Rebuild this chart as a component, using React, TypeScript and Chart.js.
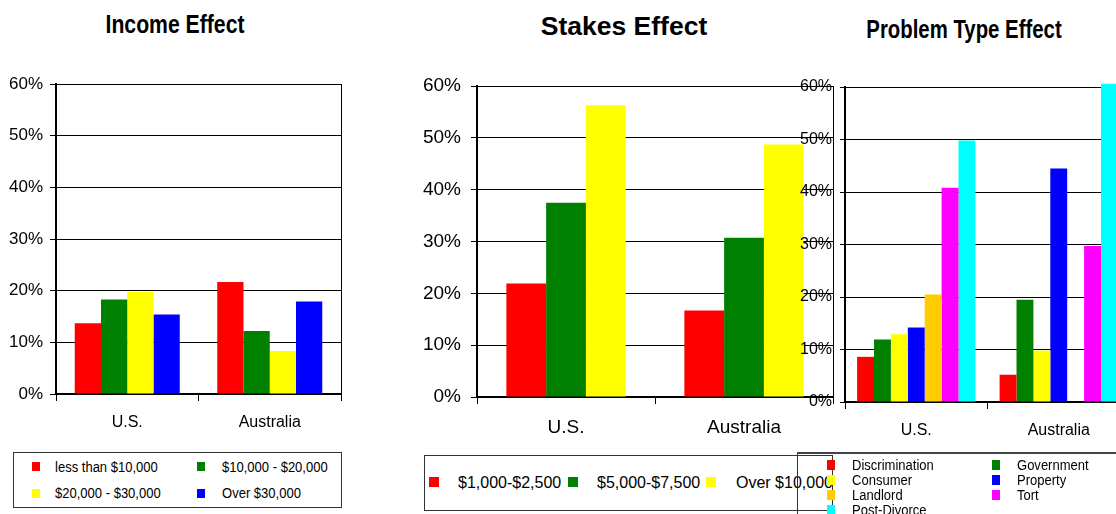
import React, { useEffect, useRef } from 'react';
import { Chart, registerables } from 'chart.js';

Chart.register(...registerables);

// ---------- data ----------
const categories = ['U.S.', 'Australia'];

const incomeSeriesNames = ['less than $10,000', '$10,000 - $20,000', '$20,000 - $30,000', 'Over $30,000'];
const incomeUnder10k = [13.7, 21.7];
const income10to20k = [18.3, 12.2];
const income20to30k = [19.8, 8.3];
const incomeOver30k = [15.4, 17.9];

const stakesSeriesNames = ['$1,000-$2,500', '$5,000-$7,500', 'Over $10,000'];
const stakes1000to2500 = [21.9, 16.7];
const stakes5000to7500 = [37.5, 30.7];
const stakesOver10000 = [56.3, 48.7];

const problemSeriesNames = ['Discrimination', 'Government', 'Consumer', 'Property', 'Landlord', 'Tort', 'Post-Divorce'];
const problemDiscrimination = [8.6, 5.2];
const problemGovernment = [11.9, 19.5];
const problemConsumer = [12.9, 9.8];
const problemProperty = [14.2, 44.5];
const problemLandlord = [20.5, 0];
const problemTort = [40.8, 29.7];
const problemPostDivorce = [49.8, 60.6];

const yMin = 0;
const yMax = 60;
const yStep = 10;

// ---------- styles ----------
const FONT = '"Liberation Sans", Arial, Helvetica, sans-serif';
const incomeColors = ['#FF0000', '#008000', '#FFFF00', '#0000FF'];
const stakesColors = ['#FF0000', '#008000', '#FFFF00'];
const problemColors = ['#FF0000', '#008000', '#FFFF00', '#0000FF', '#FFCC00', '#FF00FF', '#00FFFF'];

Chart.defaults.font.family = FONT;

const frameRight = {
  id: 'frameRight',
  beforeDatasetsDraw(chart: any) {
    const { ctx, chartArea } = chart;
    ctx.save();
    ctx.strokeStyle = '#000';
    ctx.lineWidth = 1;
    const x = Math.round(chartArea.right) + 0.5;
    ctx.beginPath();
    ctx.moveTo(x, chartArea.top);
    ctx.lineTo(x, chartArea.bottom);
    ctx.stroke();
    ctx.restore();
  },
};

type Geo = {
  yWidth: number; padTop: number; padRight: number; xHeight: number;
  yFont: number; yPad: number; yTickLen: number;
  xFont: number; xPad: number; xTickLen: number; catPct: number;
};

function makeConfig(series: number[][], names: string[], colors: string[], g: Geo): any {
  return {
    type: 'bar',
    data: {
      labels: categories,
      datasets: series.map((d, i) => ({
        label: names[i],
        data: d,
        backgroundColor: colors[i],
        borderWidth: 0,
        clip: false,
      })),
    },
    options: {
      animation: false,
      responsive: false,
      events: [],
      layout: { padding: { left: 0, top: g.padTop, right: g.padRight, bottom: 0 } },
      plugins: { legend: { display: false }, title: { display: false }, tooltip: { enabled: false } },
      datasets: { bar: { categoryPercentage: g.catPct, barPercentage: 1 } },
      scales: {
        x: {
          offset: true,
          grid: { display: true, drawOnChartArea: false, drawTicks: true, tickLength: g.xTickLen, color: '#000', lineWidth: 1, offset: true },
          border: { display: true, color: '#000', width: 2 },
          ticks: { color: '#000', font: { family: FONT, size: g.xFont }, padding: g.xPad, maxRotation: 0, autoSkip: false },
          afterFit: (s: any) => { s.height = g.xHeight; },
        },
        y: {
          min: yMin,
          max: yMax,
          ticks: {
            stepSize: yStep,
            callback: (v: any) => v + '%',
            color: '#000',
            font: { family: FONT, size: g.yFont },
            padding: g.yPad,
          },
          grid: { color: '#000', lineWidth: 1, tickLength: g.yTickLen, drawTicks: true },
          border: { display: true, color: '#000', width: 2 },
          afterFit: (s: any) => { s.width = g.yWidth; },
        },
      },
    },
    plugins: [frameRight],
  };
}

function ChartCanvas({ left, top, width, height, build }: { left: number; top: number; width: number; height: number; build: () => any }) {
  const ref = useRef<HTMLCanvasElement>(null);
  useEffect(() => {
    const chart = new Chart(ref.current as HTMLCanvasElement, build());
    return () => chart.destroy();
  }, []);
  return (
    <canvas
      ref={ref}
      width={width}
      height={height}
      style={{ position: 'absolute', left, top, width, height }}
    />
  );
}

function Label({ x, cy, size, text, sx = 1, bold = false, center = false }: { x: number; cy: number; size: number; text: string; sx?: number; bold?: boolean; center?: boolean }) {
  const lh = Math.round(size * 1.2);
  const style: React.CSSProperties = {
    position: 'absolute',
    top: cy - lh / 2,
    fontSize: size,
    lineHeight: lh + 'px',
    fontFamily: FONT,
    fontWeight: bold ? 700 : 400,
    whiteSpace: 'nowrap',
    color: '#000',
    transform: `scaleX(${sx})`,
  };
  if (center) {
    style.left = x - 300;
    style.width = 600;
    style.textAlign = 'center';
    style.transformOrigin = 'center center';
  } else {
    style.left = x;
    style.transformOrigin = 'left center';
  }
  return <div style={style}>{text}</div>;
}

function Swatch({ x, y, w, h, color }: { x: number; y: number; w: number; h: number; color: string }) {
  return <div style={{ position: 'absolute', left: x, top: y, width: w, height: h, background: color }} />;
}

export default function App() {
  const incomeSeries = [incomeUnder10k, income10to20k, income20to30k, incomeOver30k];
  const stakesSeries = [stakes1000to2500, stakes5000to7500, stakesOver10000];
  const problemSeries = [problemDiscrimination, problemGovernment, problemConsumer, problemProperty, problemLandlord, problemTort, problemPostDivorce];

  const g1: Geo = { yWidth: 56, padTop: 84, padRight: 19, xHeight: 56, yFont: 17, yPad: 7, yTickLen: 6, xFont: 16, xPad: 12, xTickLen: 7, catPct: 0.737 };
  const g2: Geo = { yWidth: 97, padTop: 86, padRight: 7, xHeight: 53, yFont: 19, yPad: 10, yTickLen: 6, xFont: 19, xPad: 12, xTickLen: 7, catPct: 0.67 };
  const g3: Geo = { yWidth: 65, padTop: 87, padRight: 10, xHeight: 48, yFont: 16, yPad: 8, yTickLen: 5, xFont: 16, xPad: 12, xTickLen: 7, catPct: 0.83 };

  const incomeLegendPos = [
    { sx: 32, sy: 462, tx: 55, ty: 467.5 },
    { sx: 197, sy: 462, tx: 222, ty: 467.5 },
    { sx: 32, sy: 489, tx: 55, ty: 493 },
    { sx: 197, sy: 489, tx: 222, ty: 493 },
  ];
  const stakesLegendX = [{ sx: 429, tx: 458 }, { sx: 568, tx: 597 }, { sx: 706, tx: 736 }];

  return (
    <div style={{ position: 'fixed', left: 0, top: 0, width: 1116, height: 514, overflow: 'hidden', background: '#fff' }}>
      {/* Titles */}
      <Label x={174.5} cy={24.7} size={26} text="Income Effect" bold center sx={0.815} />
      <Label x={623.5} cy={26.8} size={26} text="Stakes Effect" bold center sx={1.02} />
      <Label x={963.5} cy={29.7} size={26} text="Problem Type Effect" bold center sx={0.783} />

      {/* Charts */}
      <ChartCanvas left={0} top={0} width={360} height={450} build={() => makeConfig(incomeSeries, incomeSeriesNames, incomeColors, g1)} />
      <ChartCanvas left={380} top={0} width={460} height={450} build={() => makeConfig(stakesSeries, stakesSeriesNames, stakesColors, g2)} />
      <ChartCanvas left={780} top={0} width={360} height={450} build={() => makeConfig(problemSeries, problemSeriesNames, problemColors, g3)} />

      {/* Income legend */}
      <div style={{ position: 'absolute', left: 13, top: 452, width: 329, height: 56, border: '1px solid #333', boxSizing: 'border-box' }} />
      {incomeSeriesNames.map((n, i) => (
        <React.Fragment key={'inc' + i}>
          <Swatch x={incomeLegendPos[i].sx} y={incomeLegendPos[i].sy} w={8} h={9} color={incomeColors[i]} />
          <Label x={incomeLegendPos[i].tx} cy={incomeLegendPos[i].ty} size={14} sx={0.93} text={n} />
        </React.Fragment>
      ))}

      {/* Stakes legend */}
      <div style={{ position: 'absolute', left: 424, top: 455, width: 409, height: 56, border: '1px solid #333', boxSizing: 'border-box' }} />
      {stakesSeriesNames.map((n, i) => (
        <React.Fragment key={'stk' + i}>
          <Swatch x={stakesLegendX[i].sx} y={477} w={10} h={10} color={stakesColors[i]} />
          <Label x={stakesLegendX[i].tx} cy={482.5} size={16} text={n} />
        </React.Fragment>
      ))}

      {/* Problem type legend */}
      <div style={{ position: 'absolute', left: 797, top: 452, width: 400, height: 100, borderLeft: '1px solid #333', borderTop: '2px solid #444', boxSizing: 'border-box' }} />
      {problemSeriesNames.map((n, i) => {
        const row = Math.floor(i / 2);
        const col = i % 2;
        return (
          <React.Fragment key={'prb' + i}>
            <Swatch x={col === 0 ? 827 : 992} y={460 + 15 * row} w={8} h={10} color={problemColors[i]} />
            <Label x={col === 0 ? 852 : 1017} cy={465.5 + 15 * row} size={14} sx={0.93} text={n} />
          </React.Fragment>
        );
      })}
    </div>
  );
}
